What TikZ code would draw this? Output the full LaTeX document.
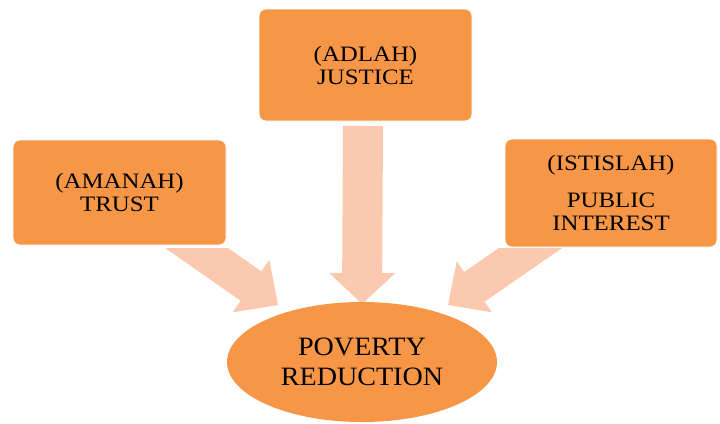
\documentclass[tikz,border=0pt]{standalone}
\usepackage{fontspec}
\setmainfont{Liberation Serif}
\newfontfamily\boxfont{Liberation Serif}[FakeStretch=1.13]
\newfontfamily\ellfont{Liberation Serif}[FakeStretch=1.06]
\usetikzlibrary{calc,shapes.geometric}
\definecolor{boxorange}{HTML}{F79646}
\definecolor{arrowpeach}{HTML}{FAC9AF}
\tikzset{
  infobox/.style={rectangle, rounded corners=7pt, fill=boxorange, draw=white, line width=0.8pt,
    align=center, font=\boxfont\fontsize{22}{23}\selectfont, inner sep=0pt},
  goal/.style={ellipse, fill=boxorange, align=center, inner sep=0pt,
    minimum width=270pt, minimum height=120pt, font=\ellfont\fontsize{26.5}{30}\selectfont},
  arrowfill/.style={fill=arrowpeach}
}
\newcommand\blockarrow[6]{% name, start, tip, half shaft, half head, head length
  \coordinate (#1h) at ($(#3)!#6!(#2)$);
  \fill[arrowfill] ($(#2)!#4!90:(#3)$) -- ($(#1h)!#4!90:(#3)$) -- ($(#1h)!#5!90:(#3)$)
    -- (#3) -- ($(#1h)!#5!-90:(#3)$) -- ($(#1h)!#4!-90:(#3)$) -- ($(#2)!#4!-90:(#3)$) -- cycle;
}
\begin{document}
\begin{tikzpicture}[x=1pt,y=-1pt]
\useasboundingbox (0,0) rectangle (720,423);
% arrow end points
\coordinate (ts) at (363,126);
\coordinate (tt) at (362,304);
\coordinate (ls) at (168,228);
\coordinate (lt) at (278,305);
\coordinate (rs) at (558,229);
\coordinate (rt) at (448,305);
\blockarrow{ta}{ts}{tt}{20pt}{33pt}{31pt}
\begin{scope}
\clip (0,248) rectangle (720,423);
\blockarrow{la}{ls}{lt}{18pt}{32pt}{33pt}
\blockarrow{ra}{rs}{rt}{18pt}{31pt}{32pt}
\end{scope}
% nodes
\node[infobox, minimum width=213pt, minimum height=105pt] (trust) at (119.5,192.5) {(AMANAH)\\TRUST};
\node[infobox, minimum width=213pt, minimum height=112pt] (justice) at (365.5,65) {(ADLAH)\\JUSTICE};
\node[infobox, minimum width=212pt, minimum height=108pt] (public) at (611,193) {(ISTISLAH)\\[14pt]PUBLIC\\INTEREST};
\node[goal] (pov) at (362,362) {POVERTY\\REDUCTION};
\end{tikzpicture}
\end{document}
